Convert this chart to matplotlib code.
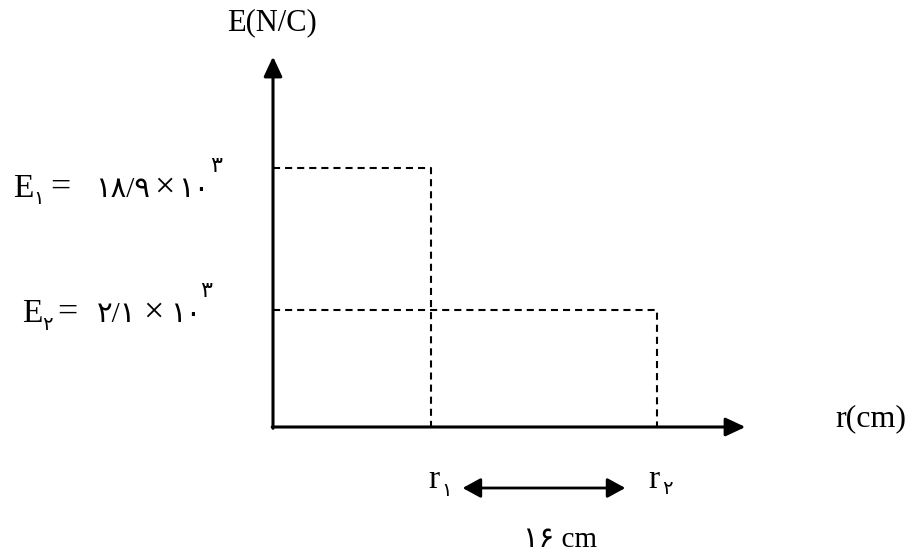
import matplotlib
matplotlib.use('Agg')
import matplotlib.pyplot as plt

# schematic diagram values (relative positions)
e_heights = [1.0, 0.45]          # E1, E2 on the vertical axis
r_marks = [1.0, 2.43]            # r1, r2 on the horizontal axis
e_values = ['۱۸/۹', '۲/۱']       # 18.9 and 2.1 (x 10^3)
e_subs = ['۱', '۲']
r_subs = ['۱', '۲']
gap_label = '۱۶ cm'
y_label = 'E(N/C)'
x_label = 'r(cm)'

W, H = 911, 554
FAM = ['Liberation Serif', 'DejaVu Sans']

fig = plt.figure(figsize=(W / 100, H / 100), dpi=100)
ax = fig.add_axes([0, 0, 1, 1])
# origin of the diagram sits at pixel (273, 427); 1 unit = 158 px in x, 259 px in y
ax.set_xlim(-273 / 158, (W - 273) / 158)
ax.set_ylim(-(H - 427) / 259, 427 / 259)
ax.axis('off')

# axes with arrow heads
arrow_kw = dict(arrowstyle='-|>,head_length=0.6,head_width=0.28', color='k',
                lw=2.2, shrinkA=0, shrinkB=0, mutation_scale=20)
ax.annotate('', xy=(0, 1.43), xytext=(0, -0.005), arrowprops=arrow_kw)
ax.annotate('', xy=(2.99, 0), xytext=(-0.005, 0), arrowprops=arrow_kw)

# dashed guide lines
for e, r in zip(e_heights, r_marks):
    ax.plot([0, r, r], [e, e, 0], color='k', lw=1.5, ls=(0, (3.4, 2.4)))

# double arrow between r1 and r2
mid_y = -(488 - 427) / 259
ax.annotate('', xy=(r_marks[0] + 0.2, mid_y), xytext=(r_marks[1] - 0.2, mid_y),
            arrowprops=dict(arrowstyle='<|-|>,head_length=0.55,head_width=0.3',
                            color='k', lw=2, shrinkA=0, shrinkB=0, mutation_scale=20))


def put(x, y, s, size, ha='left', va='baseline'):
    fig.text(x / W, 1 - y / H, s, fontsize=size, family=FAM, ha=ha, va=va)


# axis titles
put(272, 30, y_label, 22, ha='center')
put(835, 426, x_label, 23)

# E1 label
put(13, 197, 'E', 24)
put(33, 204, e_subs[0], 14)
put(50, 197, '=', 26)
put(95, 197, e_values[0], 21)
put(154, 197, '×', 26)
put(178, 197, '۱۰', 21)
put(210, 172, '۳', 16)

# E2 label
put(22, 322, 'E', 24)
put(42, 330, e_subs[1], 14)
put(57, 322, '=', 26)
put(97, 322, e_values[1], 21)
put(143, 322, '×', 26)
put(170, 322, '۱۰', 21)
put(200, 297, '۳', 16)

# r1, r2 labels
put(428, 488, 'r', 24)
put(441, 496, r_subs[0], 14)
put(648, 488, 'r', 24)
put(662, 494, r_subs[1], 14)

put(560, 547, gap_label, 21, ha='center')

fig.savefig('out.png', dpi=100)
